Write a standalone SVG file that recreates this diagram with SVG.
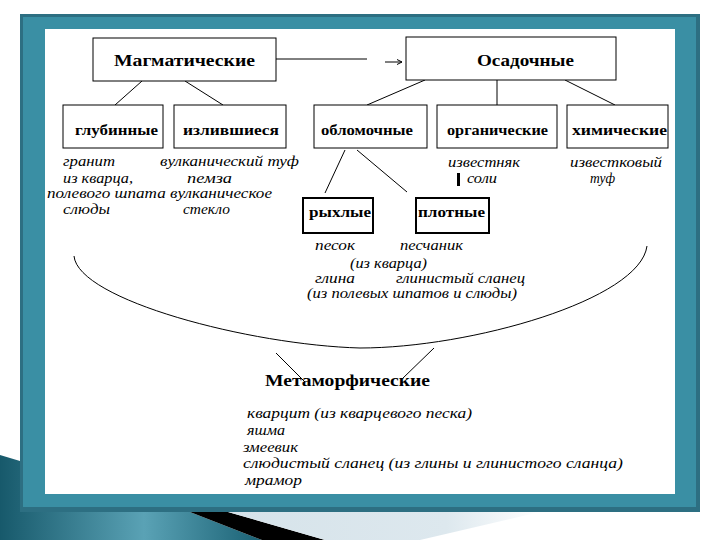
<svg xmlns="http://www.w3.org/2000/svg" width="720" height="540" viewBox="0 0 720 540">
<style>
.box{fill:#fff;stroke:#000;stroke-width:1}
.box2{fill:#fff;stroke:#000;stroke-width:2}
.lbl{font-family:"Liberation Serif","Times New Roman",serif;font-weight:bold;font-size:15px;fill:#000}
.big{font-size:16px}
.it{font-family:"Liberation Serif","Times New Roman",serif;font-style:italic;font-size:14px;fill:#000}
.con{stroke:#000;stroke-width:1;fill:none}
</style>
<defs>
<linearGradient id="tealG" x1="0" y1="0" x2="1" y2="0">
<stop offset="0" stop-color="#17596b"/>
<stop offset="0.55" stop-color="#5aa2b5"/>
<stop offset="1" stop-color="#1a6174"/>
</linearGradient>
<linearGradient id="grayG" x1="0" y1="0" x2="1" y2="0">
<stop offset="0" stop-color="#d6e3ea"/>
<stop offset="0.7" stop-color="#dde8ee"/>
<stop offset="1" stop-color="#ffffff"/>
</linearGradient>
<marker id="ah" markerWidth="6" markerHeight="6" refX="5" refY="3" orient="auto" markerUnits="userSpaceOnUse">
<path d="M0,0.5 L5,3 L0,5.5" fill="none" stroke="#000" stroke-width="1"/>
</marker>
</defs>
<rect width="720" height="540" fill="#fff"/>
<!-- decoration bottom-left -->
<polygon points="0,455 190,512 262,540 0,540" fill="url(#tealG)"/>
<polygon points="190,512 228,512 325,540 262,540" fill="#000"/>
<polygon points="228,512 540,512 420,540 325,540" fill="url(#grayG)"/>
<!-- frame -->
<rect x="20" y="14" width="680" height="498" fill="#2d6f82"/>
<rect x="23" y="17" width="673" height="490" fill="#3a8fa4"/>
<rect x="45" y="29" width="630" height="465" fill="#fff"/>

<g id="connectors">
<line class="con" x1="276" y1="59" x2="367" y2="59"/>
<line class="con" x1="385" y1="62" x2="402" y2="62" marker-end="url(#ah)"/>
<line class="con" x1="142" y1="81" x2="115" y2="105"/>
<line class="con" x1="185" y1="81" x2="223" y2="105"/>
<line class="con" x1="425" y1="80" x2="367" y2="105"/>
<line class="con" x1="497" y1="80" x2="497" y2="105"/>
<line class="con" x1="565" y1="80" x2="615" y2="105"/>
<line class="con" x1="345" y1="150" x2="325" y2="193"/>
<line class="con" x1="357" y1="150" x2="407" y2="192"/>
<path class="con" d="M74,256 C78,300 250,345 360,348 C470,348 640,300 647,246"/>
<line class="con" x1="276" y1="353" x2="305" y2="382"/>
<line class="con" x1="434" y1="348" x2="402" y2="379"/>
</g>

<g id="magmatic">
<rect class="box" x="93" y="38" width="183" height="43"/>
<text class="lbl big" x="114" y="66" textLength="141" lengthAdjust="spacingAndGlyphs">Магматические</text>
</g>
<g id="sedimentary">
<rect class="box" x="406" y="37" width="210" height="43"/>
<text class="lbl big" x="477" y="66" textLength="97" lengthAdjust="spacingAndGlyphs">Осадочные</text>
</g>
<g id="deep">
<rect class="box" x="63" y="105" width="100" height="43"/>
<text class="lbl" x="75" y="135" textLength="83" lengthAdjust="spacingAndGlyphs">глубинные</text>
</g>
<g id="effusive">
<rect class="box" x="174" y="105" width="112" height="43"/>
<text class="lbl" x="183" y="135" textLength="96" lengthAdjust="spacingAndGlyphs">излившиеся</text>
</g>
<g id="clastic">
<rect class="box" x="314" y="105" width="113" height="43"/>
<text class="lbl" x="321" y="135" textLength="92" lengthAdjust="spacingAndGlyphs">обломочные</text>
</g>
<g id="organic">
<rect class="box" x="437" y="105" width="120" height="43"/>
<text class="lbl" x="447" y="135" textLength="101" lengthAdjust="spacingAndGlyphs">органические</text>
</g>
<g id="chemical">
<rect class="box" x="567" y="105" width="101" height="43"/>
<text class="lbl" x="572" y="135" textLength="95" lengthAdjust="spacingAndGlyphs">химические</text>
</g>
<g id="loose">
<rect class="box2" x="303" y="198" width="70" height="35"/>
<text class="lbl" x="309" y="217" textLength="62" lengthAdjust="spacingAndGlyphs">рыхлые</text>
</g>
<g id="dense">
<rect class="box2" x="416" y="198" width="73" height="35"/>
<text class="lbl" x="418" y="217" textLength="67" lengthAdjust="spacingAndGlyphs">плотные</text>
</g>
<g id="metamorphic">
<text class="lbl big" x="265" y="386" textLength="165" lengthAdjust="spacingAndGlyphs">Метаморфические</text>
</g>

<g id="igneous-examples">
<text class="it" x="63" y="166" textLength="52" lengthAdjust="spacingAndGlyphs">гранит</text>
<text class="it" x="160" y="166" textLength="139" lengthAdjust="spacingAndGlyphs">вулканический туф</text>
<text class="it" x="63" y="183" textLength="70" lengthAdjust="spacingAndGlyphs">из кварца,</text>
<text class="it" x="187" y="183" textLength="45" lengthAdjust="spacingAndGlyphs">пемза</text>
<text class="it" x="47" y="198" textLength="225" lengthAdjust="spacingAndGlyphs">полевого шпата вулканическое</text>
<text class="it" x="63" y="214" textLength="47" lengthAdjust="spacingAndGlyphs">слюды</text>
<text class="it" x="183" y="214" textLength="47" lengthAdjust="spacingAndGlyphs">стекло</text>
</g>
<g id="sedimentary-examples">
<text class="it" x="448" y="167" textLength="72" lengthAdjust="spacingAndGlyphs">известняк</text>
<rect x="457" y="173" width="3" height="13" fill="#000"/>
<text class="it" x="467" y="183" textLength="30" lengthAdjust="spacingAndGlyphs">соли</text>
<text class="it" x="570" y="167" textLength="92" lengthAdjust="spacingAndGlyphs">известковый</text>
<text class="it" x="590" y="183" textLength="25" lengthAdjust="spacingAndGlyphs">туф</text>
<text class="it" x="315" y="250" textLength="40" lengthAdjust="spacingAndGlyphs">песок</text>
<text class="it" x="400" y="250" textLength="63" lengthAdjust="spacingAndGlyphs">песчаник</text>
<text class="it" x="350" y="268" textLength="77" lengthAdjust="spacingAndGlyphs">(из кварца)</text>
<text class="it" x="315" y="283" textLength="40" lengthAdjust="spacingAndGlyphs">глина</text>
<text class="it" x="396" y="283" textLength="129" lengthAdjust="spacingAndGlyphs">глинистый сланец</text>
<text class="it" x="307" y="298" textLength="210" lengthAdjust="spacingAndGlyphs">(из полевых шпатов и слюды)</text>
</g>
<g id="metamorphic-examples">
<text class="it" x="247" y="418" textLength="225" lengthAdjust="spacingAndGlyphs">кварцит (из кварцевого песка)</text>
<text class="it" x="247" y="435" textLength="38" lengthAdjust="spacingAndGlyphs">яшма</text>
<text class="it" x="243" y="452" textLength="55" lengthAdjust="spacingAndGlyphs">змеевик</text>
<text class="it" x="243" y="468" textLength="380" lengthAdjust="spacingAndGlyphs">слюдистый сланец (из глины и глинистого сланца)</text>
<text class="it" x="245" y="485" textLength="57" lengthAdjust="spacingAndGlyphs">мрамор</text>
</g>
</svg>
